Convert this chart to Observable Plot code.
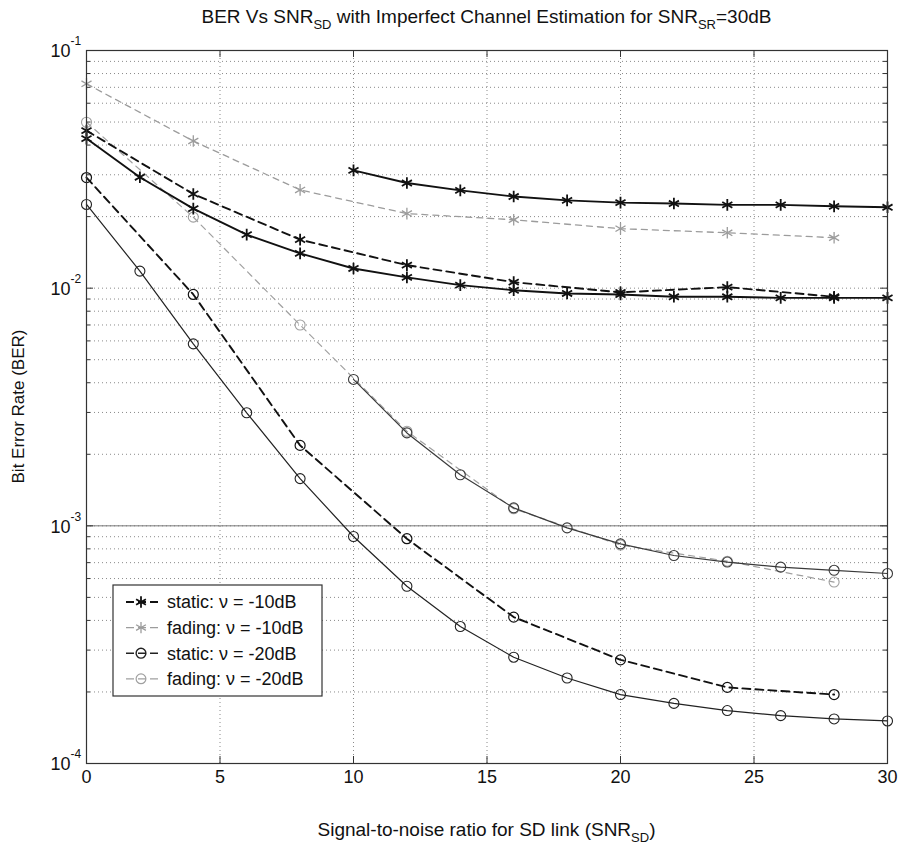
<!DOCTYPE html>
<html>
<head>
<meta charset="utf-8">
<script src="https://cdn.jsdelivr.net/npm/d3@7"></script>
<script src="https://cdn.jsdelivr.net/npm/@observablehq/plot@0.6"></script>
<style>
  html, body { margin: 0; padding: 0; background: #fff; }
  #chart svg { display: block; }
</style>
</head>
<body>
<div id="chart"></div>
<script>
// ---------------- data ----------------
const xStep2 = [0, 2, 4, 6, 8, 10, 12, 14, 16, 18, 20, 22, 24, 26, 28, 30];
const xStep4 = [0, 4, 8, 12, 16, 20, 24, 28];
const xFrom10 = [10, 12, 14, 16, 18, 20, 22, 24, 26, 28, 30];

// black solid with asterisks (v = -10 dB)
const static10Solid = [0.0426, 0.0293, 0.0216, 0.0168, 0.0140, 0.0121, 0.0111, 0.0103, 0.0098, 0.0095, 0.0094, 0.0092, 0.0092, 0.0091, 0.0091, 0.0091];
// black dashed with asterisks
const static10Dashed = [0.0460, 0.0249, 0.0160, 0.0125, 0.0106, 0.0096, 0.0101, 0.0092];
// upper black solid with asterisks, from 10 dB
const upper10Solid = [0.0313, 0.0277, 0.0258, 0.0243, 0.0234, 0.0229, 0.0227, 0.0224, 0.0224, 0.0221, 0.0219];
// gray dashed with asterisks (fading, v = -10 dB)
const fading10Dashed = [0.0724, 0.0416, 0.0259, 0.0206, 0.0194, 0.0178, 0.0171, 0.0163];
// black solid with circles (v = -20 dB)
const static20Solid = [0.0225, 0.0118, 0.00583, 0.00299, 0.00158, 0.000902, 0.000557, 0.000377, 0.000280, 0.000229, 0.000195, 0.000179, 0.000167, 0.000159, 0.000154, 0.000151];
// black dashed with circles
const static20Dashed = [0.0292, 0.00941, 0.00218, 0.000883, 0.000413, 0.000273, 0.000209, 0.000195];
// gray dashed with circles (fading, v = -20 dB)
const fading20Dashed = [0.0499, 0.0199, 0.0070, 0.0025, 0.00118, 0.00083, 0.00071, 0.00058];
// dark solid with circles, from 10 dB
const lower20Solid = [0.00413, 0.00246, 0.00164, 0.00119, 0.00098, 0.00084, 0.00075, 0.000704, 0.00067, 0.00065, 0.00063];

const xTicks = [0, 5, 10, 15, 20, 25, 30];
const xTickLabels = ["0", "5", "10", "15", "20", "25", "30"];
const xGrid = [5, 10, 15, 20, 25];
const yDecades = [1e-4, 1e-3, 1e-2, 1e-1];
const yExponents = ["-4", "-3", "-2", "-1"];
const yMultipliers = [2, 3, 4, 5, 6, 7, 8, 9];
const yEmphasis = [1e-3];

const legendLabels = ["static: \u03BD = -10dB", "fading: \u03BD = -10dB", "static: \u03BD = -20dB", "fading: \u03BD = -20dB"];

// ---------------- layout / styles ----------------
const W = 900, H = 845;
const mL = 86, mR = 13, mT = 50, mB = 82;
const plotW = W - mL - mR;
const plotH = H - mT - mB;
const FONT = "'Liberation Sans', Arial, Helvetica, sans-serif";

const yMinor = [];
for (const d of yDecades.slice(0, 3)) for (const m of yMultipliers) yMinor.push(d * m);
const yGrid = yDecades.concat(yMinor);

const series = [
  {xs: xStep4,  ys: fading10Dashed, stroke: "#9c9c9c", sw: 1.3, dash: "6,5", symbol: "asterisk", mw: 1.3},
  {xs: xStep4,  ys: fading20Dashed, stroke: "#a0a0a0", sw: 1.2, dash: "6,5", symbol: "circle", mw: 1.1},
  {xs: xFrom10, ys: lower20Solid,   stroke: "#3a3a3a", sw: 1.2, dash: null,  symbol: "circle", mw: 1.1},
  {xs: xStep2,  ys: static20Solid,  stroke: "#222",    sw: 1.2, dash: null,  symbol: "circle", mw: 1.1},
  {xs: xStep4,  ys: static20Dashed, stroke: "#111",    sw: 1.9, dash: "8,5", symbol: "circle", mw: 1.2},
  {xs: xStep2,  ys: static10Solid,  stroke: "#111",    sw: 1.9, dash: null,  symbol: "asterisk", mw: 1.8},
  {xs: xStep4,  ys: static10Dashed, stroke: "#111",    sw: 1.9, dash: "8,5", symbol: "asterisk", mw: 1.8},
  {xs: xFrom10, ys: upper10Solid,   stroke: "#111",    sw: 1.9, dash: null,  symbol: "asterisk", mw: 1.8}
];

const seriesMarks = [];
for (const s of series) {
  const rows = s.xs.map((x, i) => ({x, y: s.ys[i]}));
  seriesMarks.push(Plot.line(rows, {x: "x", y: "y", stroke: s.stroke, strokeWidth: s.sw, strokeDasharray: s.dash}));
  seriesMarks.push(Plot.dot(rows, {x: "x", y: "y", symbol: s.symbol, r: s.symbol === "circle" ? 5 : 5.5, stroke: s.stroke, strokeWidth: s.mw, fill: "none"}));
}

const chart = Plot.plot({
  width: W,
  height: H,
  marginLeft: mL, marginRight: mR, marginTop: mT, marginBottom: mB,
  style: {fontFamily: FONT, background: "#fff", color: "#222"},
  x: {domain: [0, 30], axis: null},
  y: {type: "log", domain: [1e-4, 1e-1], axis: null},
  marks: [
    Plot.ruleY(yGrid, {y: d => d, stroke: "#8a8a8a", strokeWidth: 1, strokeDasharray: "1,3"}),
    Plot.ruleX(xGrid, {x: d => d, stroke: "#8a8a8a", strokeWidth: 1, strokeDasharray: "1,3"}),
    Plot.ruleY(yEmphasis, {y: d => d, stroke: "#777", strokeWidth: 1}),
    ...seriesMarks,
    Plot.frame({stroke: "#333", strokeWidth: 1.2}),
    // inward ticks
    Plot.tickX(xTicks, {x: d => d, insetTop: plotH - 7, stroke: "#333"}),
    Plot.tickX(xTicks, {x: d => d, insetBottom: plotH - 7, stroke: "#333"}),
    Plot.tickY(yDecades, {y: d => d, insetRight: plotW - 7, stroke: "#333"}),
    Plot.tickY(yDecades, {y: d => d, insetLeft: plotW - 7, stroke: "#333"}),
    Plot.tickY(yMinor, {y: d => d, insetRight: plotW - 4, stroke: "#333"}),
    Plot.tickY(yMinor, {y: d => d, insetLeft: plotW - 4, stroke: "#333"}),
    // tick labels
    Plot.text(xTicks, {x: d => d, frameAnchor: "bottom", dy: 19, text: (d, i) => xTickLabels[i], fontSize: 18, fill: "#111"}),
    Plot.text(yDecades, {y: d => d, frameAnchor: "left", dx: -16, dy: 1, textAnchor: "end", text: () => "10", fontSize: 18, fill: "#111"}),
    Plot.text(yDecades, {y: d => d, frameAnchor: "left", dx: -16, dy: -9, textAnchor: "start", text: (d, i) => yExponents[i], fontSize: 12, fill: "#111"})
  ]
});

document.getElementById("chart").appendChild(chart);

// ---------------- titles and legend ----------------
const svg = d3.select(chart);
const cx = mL + plotW / 2;

const title = svg.append("text")
  .attr("x", cx).attr("y", 23)
  .attr("text-anchor", "middle")
  .attr("font-family", FONT).attr("font-size", 19).attr("fill", "#111");
title.append("tspan").text("BER Vs SNR");
title.append("tspan").attr("dy", 6).attr("font-size", 13).text("SD");
title.append("tspan").attr("dy", -6).text(" with Imperfect Channel Estimation for SNR");
title.append("tspan").attr("dy", 6).attr("font-size", 13).text("SR");
title.append("tspan").attr("dy", -6).text("=30dB");

const xl = svg.append("text")
  .attr("x", cx).attr("y", 836)
  .attr("text-anchor", "middle")
  .attr("font-family", FONT).attr("font-size", 19).attr("fill", "#111");
xl.append("tspan").text("Signal-to-noise ratio for SD link (SNR");
xl.append("tspan").attr("dy", 6).attr("font-size", 13).text("SD");
xl.append("tspan").attr("dy", -6).text(")");

svg.append("text")
  .attr("transform", `translate(24, ${mT + plotH / 2}) rotate(-90)`)
  .attr("text-anchor", "middle")
  .attr("font-family", FONT).attr("font-size", 17).attr("fill", "#111")
  .text("Bit Error Rate (BER)");

// legend
const legendStyles = [
  {stroke: "#111", sw: 1.8, symbol: d3.symbolAsterisk},
  {stroke: "#9c9c9c", sw: 1.3, symbol: d3.symbolAsterisk},
  {stroke: "#222", sw: 1.4, symbol: d3.symbolCircle},
  {stroke: "#a0a0a0", sw: 1.2, symbol: d3.symbolCircle}
];
const lg = svg.append("g");
lg.append("rect").attr("x", 113).attr("y", 585).attr("width", 209).attr("height", 111)
  .attr("fill", "#fff").attr("stroke", "#333").attr("stroke-width", 1.2);
legendLabels.forEach((label, i) => {
  const yy = 602 + i * 25.6;
  const st = legendStyles[i];
  lg.append("line").attr("x1", 126).attr("x2", 158).attr("y1", yy).attr("y2", yy)
    .attr("stroke", st.stroke).attr("stroke-width", st.sw).attr("stroke-dasharray", "8,4");
  lg.append("path").attr("transform", `translate(141,${yy})`)
    .attr("d", d3.symbol(st.symbol, st.symbol === d3.symbolCircle ? 75 : 90)())
    .attr("fill", "none").attr("stroke", st.stroke).attr("stroke-width", st.sw);
  lg.append("text").attr("x", 167).attr("y", yy).attr("dy", "0.36em")
    .attr("text-anchor", "start")
    .attr("font-family", FONT).attr("font-size", 18).attr("fill", "#111")
    .text(label);
});
</script>
</body>
</html>
